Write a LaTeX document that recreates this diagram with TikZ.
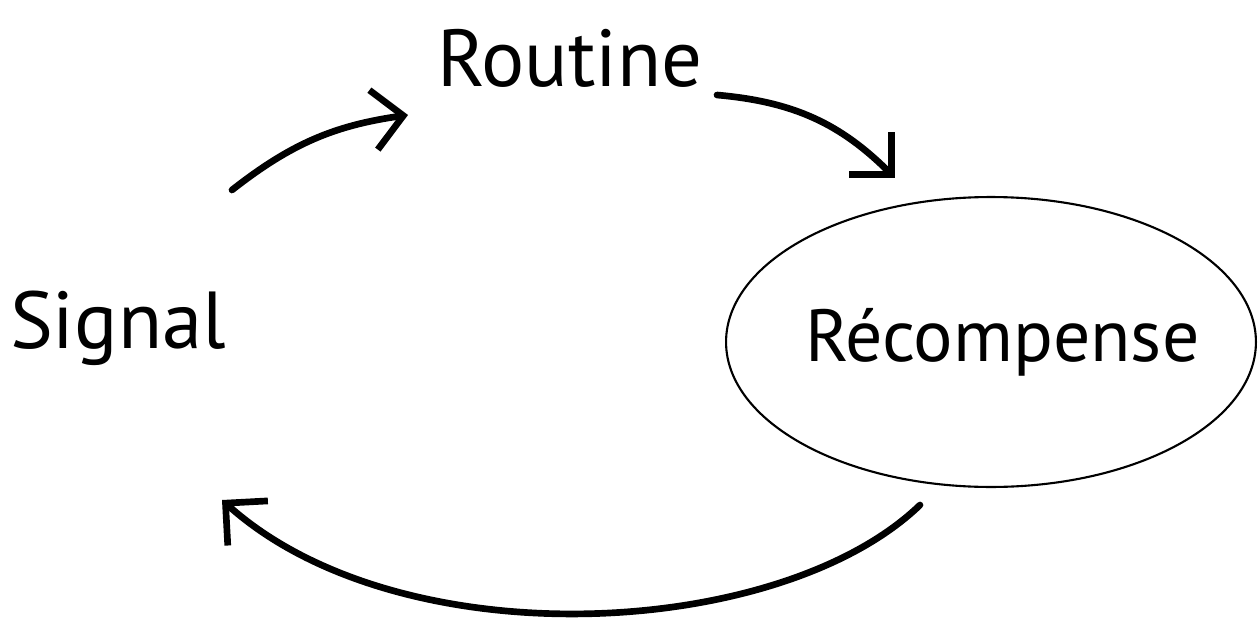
\documentclass[tikz,border=0pt]{standalone}
\usepackage{fontspec}
\setmainfont{PT Sans}
\usetikzlibrary{positioning,arrows.meta,shapes.geometric}

\begin{document}
\begin{tikzpicture}[x=0.02cm, y=-0.02cm, every node/.style={font=\fontsize{46}{50}\selectfont, inner sep=0pt}]
  \tikzset{
    bubble/.style={draw, ellipse, line width=1.2pt, minimum width=10.6cm, minimum height=5.8cm, font=\fontsize{42}{46}\selectfont},
    flow/.style={-{Straight Barb[length=6mm, width=12mm]}, line width=3.8pt, line cap=round}
  }
  \useasboundingbox (0,0) rectangle (1259,619);
  \node (signal) at (118,328) {Signal};
  \node (routine) at (570,58) {Routine};
  \node[bubble] (reward) at (991,342) {\makebox[0pt]{\hspace*{0.45cm}Récompense}};
  \coordinate (a1) at (232,190);
  \coordinate (a2) at (408,115);
  \coordinate (b1) at (717,95);
  \coordinate (b2) at (895,178);
  \coordinate (c1) at (920,505);
  \coordinate (c2) at (222,500);
  \draw[flow] (a1) to[bend left=15] (a2);
  \draw[flow] (b1) to[bend left=20] (b2);
  \draw[flow] (c1) .. controls (780,640) and (400,660) .. (c2);
\end{tikzpicture}
\end{document}
